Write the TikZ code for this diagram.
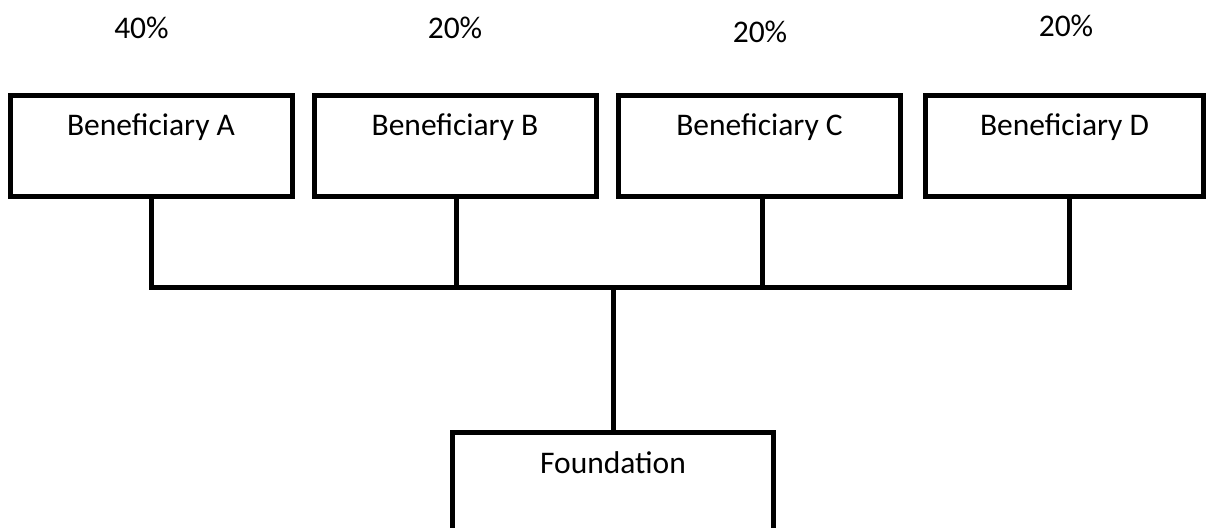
\documentclass[tikz,border=0pt]{standalone}
\usepackage{fontspec}
\setmainfont{Carlito}
\begin{document}
\begin{tikzpicture}[x=1pt,y=-1pt,
  box/.style={draw=black,line width=5pt,fill=white,inner sep=0pt},
  lbl/.style={inner sep=0pt,anchor=base,font=\fontsize{31.5}{38}\selectfont},
  wire/.style={draw=black,line width=5pt}]
\clip (0,0) rectangle (1206,527);
\fill[white] (0,0) rectangle (1206,527);
% boxes
\node[box,minimum width=282pt,minimum height=101pt] (A) at (151,145.5) {};
\node[box,minimum width=282pt,minimum height=101pt] (B) at (455,145.5) {};
\node[box,minimum width=282pt,minimum height=101pt] (C) at (759.5,145.5) {};
\node[box,minimum width=278pt,minimum height=101pt] (D) at (1064.5,145.5) {};
\node[box,minimum width=321pt,minimum height=140pt] (F) at (613,502.5) {};
% box texts
\node[lbl] (tA) at (151,135) {Beneficiary A};
\node[lbl] (tB) at (455,135) {Beneficiary B};
\node[lbl] (tC) at (759.5,135) {Beneficiary C};
\node[lbl] (tD) at (1064.5,135) {Beneficiary D};
\node[lbl] (tF) at (613,473) {Foundation};
% percentages
\node[lbl] (pA) at (141.5,38) {40\%};
\node[lbl] (pB) at (455,38) {20\%};
\node[lbl] (pC) at (760,42) {20\%};
\node[lbl] (pD) at (1066,37) {20\%};
% connectors
\coordinate (bus) at (613,287.5);
\coordinate (dA) at ([xshift=0pt]A.south);
\coordinate (dB) at ([xshift=1pt]B.south);
\coordinate (dC) at ([xshift=2.5pt]C.south);
\coordinate (dD) at ([xshift=4.5pt]D.south);
\draw[wire] (dA) -- (dA |- bus) -- (dD |- bus) -- (dD);
\draw[wire] (dB) -- (dB |- bus);
\draw[wire] (dC) -- (dC |- bus);
\draw[wire] (F.north) -- (F.north |- bus);
\end{tikzpicture}
\end{document}
